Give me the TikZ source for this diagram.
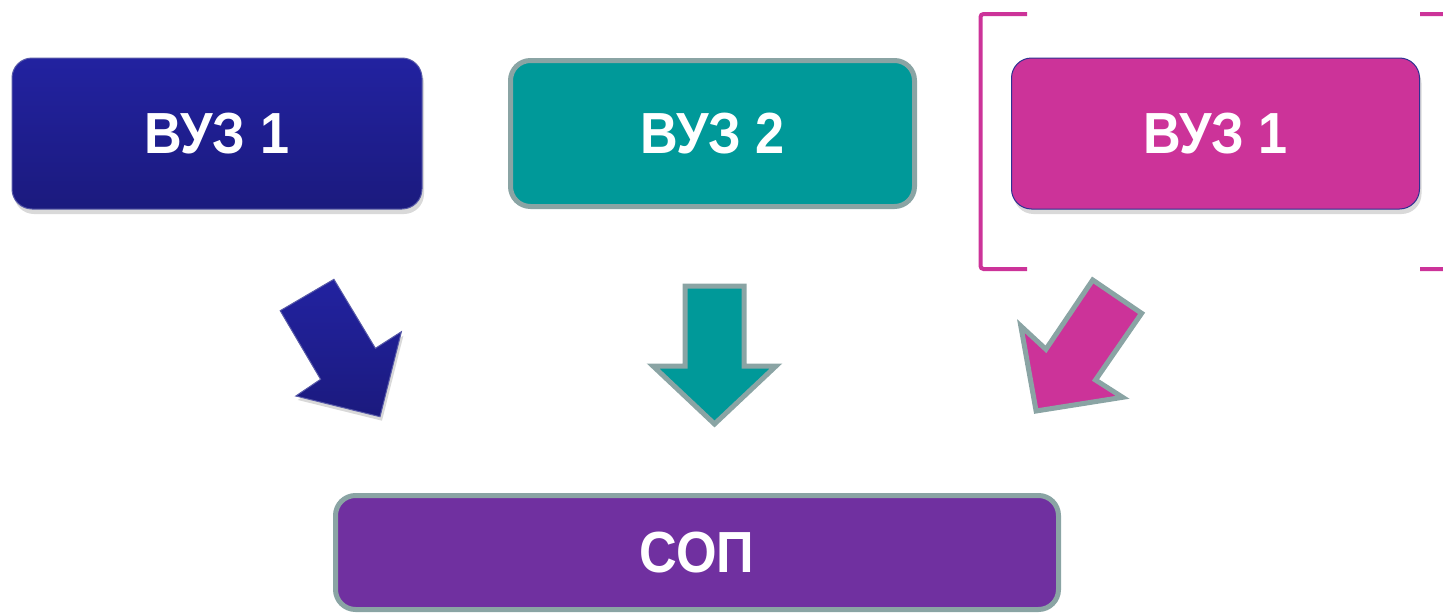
\documentclass[tikz,border=0pt]{standalone}
\usepackage{fontspec}
\setmainfont{Liberation Sans}
\newfontfamily\boxfont[FakeStretch=0.9]{Liberation Sans}
\usetikzlibrary{shadows}
\definecolor{vblue}{HTML}{2222A0}
\definecolor{vbluedark}{HTML}{1B1A7E}
\definecolor{vteal}{HTML}{009999}
\definecolor{vpink}{HTML}{CC3399}
\definecolor{vpurple}{HTML}{7030A0}
\definecolor{vgray}{HTML}{8AA4A4}
\definecolor{vedge}{HTML}{2E3192}
\tikzset{
  box/.style={rectangle, rounded corners=20pt, text=white, font=\boxfont\bfseries\fontsize{58}{60}\selectfont, inner sep=0pt},
  bluebox/.style={box, top color=vblue, bottom color=vbluedark, draw=vedge!80, line width=1pt,
    drop shadow={opacity=0.3, shadow xshift=2pt, shadow yshift=-5pt}},
  graybox/.style={box, draw=vgray, line width=5pt},
  pinkbox/.style={box, fill=vpink, draw=vedge, line width=1pt,
    drop shadow={opacity=0.3, shadow xshift=2pt, shadow yshift=-5pt}},
  grayarrow/.style={draw=vgray, line width=5pt, line join=miter},
  bracketline/.style={draw=vpink, line width=4pt, rounded corners=3pt},
}
\begin{document}
\begin{tikzpicture}[x=1pt,y=-1pt]
\useasboundingbox (0,0) rectangle (1443,613);
% boxes
\node[bluebox, minimum width=410pt, minimum height=151pt] (v1) at (217,133.5) {ВУЗ 1};
\node[graybox, fill=vteal, minimum width=404pt, minimum height=146pt] (v2) at (712.5,133.5) {ВУЗ 2};
\node[pinkbox, minimum width=408pt, minimum height=151pt] (v3) at (1215.5,133.5) {ВУЗ 1};
\node[graybox, fill=vpurple, minimum width=723pt, minimum height=114pt] (sop) at (697,552.5) {СОП};
% bracket
\draw[bracketline] (1027,14) -- (980.5,14) -- (980.5,269) -- (1027,269);
\draw[bracketline] (1420,14) -- (1447,14) -- (1447,269) -- (1420,269);
% blue arrow
\path[top color=vblue, bottom color=vbluedark, draw=vedge!80, line width=1pt,
  drop shadow={opacity=0.3, shadow xshift=2pt, shadow yshift=-4pt}]
  (333.9,279.3) -- (280.2,310.7) -- (320.6,379.3) -- (295.8,396) -- (380,416.7)
  -- (401.4,331.7) -- (375.4,348.3) -- cycle;
% teal arrow
\path[grayarrow, fill=vteal]
  (685,286) -- (744,286) -- (744,366) -- (776,366) -- (714.5,424)
  -- (653,366) -- (685,366) -- cycle;
% pink arrow
\path[grayarrow, fill=vpink]
  (1092.7,280) -- (1141.6,313.3) -- (1095.5,380) -- (1122.6,397.3) -- (1036.1,411)
  -- (1020.8,326) -- (1045.9,349.3) -- cycle;
\end{tikzpicture}
\end{document}
